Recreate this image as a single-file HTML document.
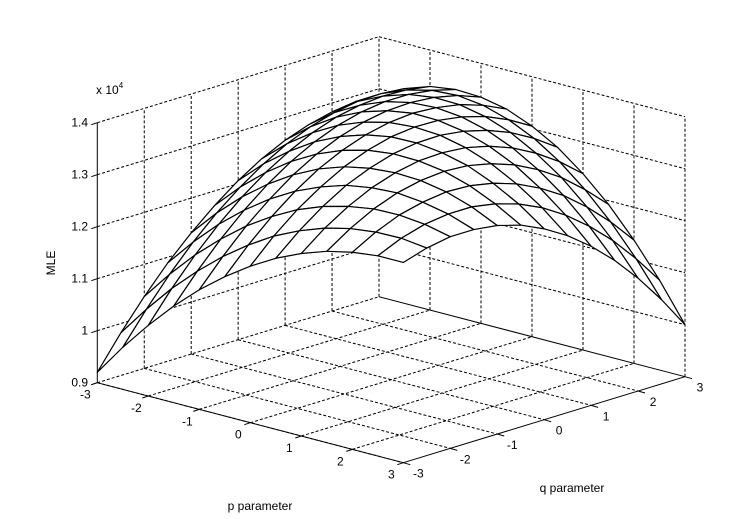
<!DOCTYPE html>
<html><head><meta charset="utf-8"><style>
html,body{margin:0;padding:0;background:#fff;}
svg{display:block;font-family:"Liberation Sans",Arial,sans-serif;}
</style></head><body>
<svg id="chart" width="756" height="519" viewBox="0 0 756 519" xmlns="http://www.w3.org/2000/svg">
<rect x="0" y="0" width="756" height="519" fill="#fff"/>
<g id="walls"></g>
<g id="axes"></g>
<g id="surface"></g>
<text x="96" y="94" font-size="12">x 10<tspan font-size="8" dy="-6">4</tspan></text>
<text transform="translate(55,263) rotate(-90)" text-anchor="middle" font-size="12">MLE</text>
<text x="260" y="510" text-anchor="middle" font-size="12">p parameter</text>
<text x="572" y="492" text-anchor="middle" font-size="12">q parameter</text>
</svg>
<script>
const pVals = [-3,-2.5,-2,-1.5,-1,-0.5,0,0.5,1,1.5,2,2.5,3];
const qVals = [-3,-2.5,-2,-1.5,-1,-0.5,0,0.5,1,1.5,2,2.5,3];
// z values (x10^4), rows indexed by p, columns by q
const zP_m30 = [0.920,0.982,1.038,1.089,1.133,1.172,1.206,1.234,1.256,1.272,1.283,1.289,1.288];
const zP_m25 = [0.981,1.040,1.094,1.142,1.184,1.220,1.251,1.276,1.295,1.308,1.316,1.317,1.313];
const zP_m20 = [1.036,1.093,1.144,1.189,1.228,1.261,1.288,1.310,1.326,1.335,1.339,1.337,1.330];
const zP_m15 = [1.086,1.139,1.187,1.229,1.265,1.295,1.319,1.337,1.349,1.355,1.355,1.349,1.337];
const zP_m10 = [1.130,1.180,1.225,1.263,1.296,1.322,1.342,1.356,1.364,1.366,1.362,1.352,1.335];
const zP_m05 = [1.168,1.215,1.256,1.291,1.320,1.342,1.358,1.368,1.372,1.369,1.361,1.346,1.325];
const zP_00  = [1.201,1.245,1.282,1.312,1.337,1.355,1.367,1.372,1.371,1.364,1.351,1.331,1.305];
const zP_05  = [1.229,1.268,1.301,1.328,1.347,1.361,1.368,1.369,1.363,1.351,1.333,1.308,1.277];
const zP_10  = [1.251,1.286,1.314,1.336,1.351,1.360,1.362,1.358,1.347,1.330,1.306,1.276,1.239];
const zP_15  = [1.268,1.298,1.322,1.339,1.349,1.353,1.350,1.340,1.324,1.301,1.272,1.235,1.193];
const zP_20  = [1.279,1.304,1.323,1.334,1.340,1.338,1.329,1.314,1.292,1.264,1.228,1.186,1.137];
const zP_25  = [1.285,1.305,1.318,1.324,1.324,1.316,1.302,1.281,1.253,1.218,1.177,1.128,1.073];
const zP_30  = [1.285,1.299,1.307,1.307,1.301,1.288,1.267,1.240,1.206,1.165,1.117,1.062,1.000];
const zRows = [zP_m30,zP_m25,zP_m20,zP_m15,zP_m10,zP_m05,zP_00,zP_05,zP_10,zP_15,zP_20,zP_25,zP_30];
const pTicks = [-3,-2,-1,0,1,2,3];
const qTicks = [-3,-2,-1,0,1,2,3];
const zTicks = [0.9,1.0,1.1,1.2,1.3,1.4];
const zTickLabels = ["0.9","1","1.1","1.2","1.3","1.4"];

const NS = "http://www.w3.org/2000/svg";
const P0=-3,P1=3,Q0=-3,Q1=3,Z0=0.9,Z1=1.4;
function sx(p,q){return 97.3+(p-P0)*51.0+(q-Q0)*46.95;}
function sy(p,q,z){return 382.7+(p-P0)*13.33-(q-Q0)*14.33-(z-Z0)*520;}
function mk(tag,attrs,parent){const e=document.createElementNS(NS,tag);for(const k in attrs)e.setAttribute(k,attrs[k]);parent.appendChild(e);return e;}
function line(parent,p1,p2,dashed,name){
  const e=mk('line',{x1:p1[0],y1:p1[1],x2:p2[0],y2:p2[1],stroke:'#000','stroke-width':1,'stroke-dasharray':dashed?'3,2':'none'},parent);
  
  
  return e;
}
function P(p,q,z){return [sx(p,q),sy(p,q,z)];}
const walls=document.getElementById('walls');
const axes=document.getElementById('axes');
pTicks.forEach(p=>{ if(p<P1) line(walls,P(p,Q0,Z0),P(p,Q1,Z0),true,'floor-grid-p'); });
qTicks.forEach(q=>{ if(q<Q1) line(walls,P(P0,q,Z0),P(P1,q,Z0),true,'floor-grid-q'); });
qTicks.forEach(q=>{ if(q>Q0) line(walls,P(P0,q,Z0),P(P0,q,Z1),true,'wall-grid-vertical'); });
zTicks.forEach(z=>{ if(z>Z0) line(walls,P(P0,Q0,z),P(P0,Q1,z),true,'wall-grid-horizontal'); });
pTicks.forEach(p=>{ if(p>P0) line(walls,P(p,Q1,Z0),P(p,Q1,Z1),true,'wall-grid-vertical'); });
zTicks.forEach(z=>{ if(z>Z0) line(walls,P(P0,Q1,z),P(P1,Q1,z),true,'wall-grid-horizontal'); });
line(walls,P(P0,Q1,Z0),P(P1,Q1,Z0),false,'floor-back-edge');
line(axes,P(P0,Q0,Z0),P(P0,Q0,Z1),false,'z-axis-line');
line(axes,P(P0,Q0,Z0),P(P1,Q0,Z0),false,'p-axis-line');
line(axes,P(P1,Q0,Z0),P(P1,Q1,Z0),false,'q-axis-line');
zTicks.forEach((z,i)=>{
  const a=P(P0,Q0,z);
  line(axes,a,[a[0]-6,a[1]+2],false,'z-tick');
  const t=mk('text',{x:88,y:a[1]+4,'text-anchor':'end','font-size':12},axes);
  
  
  t.textContent=zTickLabels[i];
});
pTicks.forEach(p=>{
  const a=P(p,Q0,Z0);
  line(axes,a,[a[0]-6,a[1]+2],false,'p-tick');
  const t=mk('text',{x:a[0]-12,y:a[1]+16,'text-anchor':'middle','font-size':12},axes);
  
  
  t.textContent=String(p);
});
qTicks.forEach(q=>{
  const a=P(P1,q,Z0);
  line(axes,a,[a[0]+7,a[1]+2],false,'q-tick');
  const t=mk('text',{x:a[0]+15,y:a[1]+15,'text-anchor':'middle','font-size':12},axes);
  
  
  t.textContent=String(q);
});
const surf=document.getElementById('surface');
const quads=[];
for(let i=0;i<pVals.length-1;i++){
  for(let j=0;j<qVals.length-1;j++){
    const pc=(pVals[i]+pVals[i+1])/2, qc=(qVals[j]+qVals[j+1])/2;
    quads.push({i,j,d:(pc-P0)*13.33-(qc-Q0)*14.33});
  }
}
quads.sort((a,b)=>a.d-b.d);
quads.forEach(o=>{
  const i=o.i,j=o.j;
  const c=[[i,j],[i+1,j],[i+1,j+1],[i,j+1]].map(([a,b])=>P(pVals[a],qVals[b],zRows[a][b]));
  const e=mk('polygon',{points:c.map(v=>v[0].toFixed(2)+','+v[1].toFixed(2)).join(' '),fill:'#fff',stroke:'#000','stroke-width':1.2,'stroke-linejoin':'round'},surf);
  
  
});
</script>
</body></html>
